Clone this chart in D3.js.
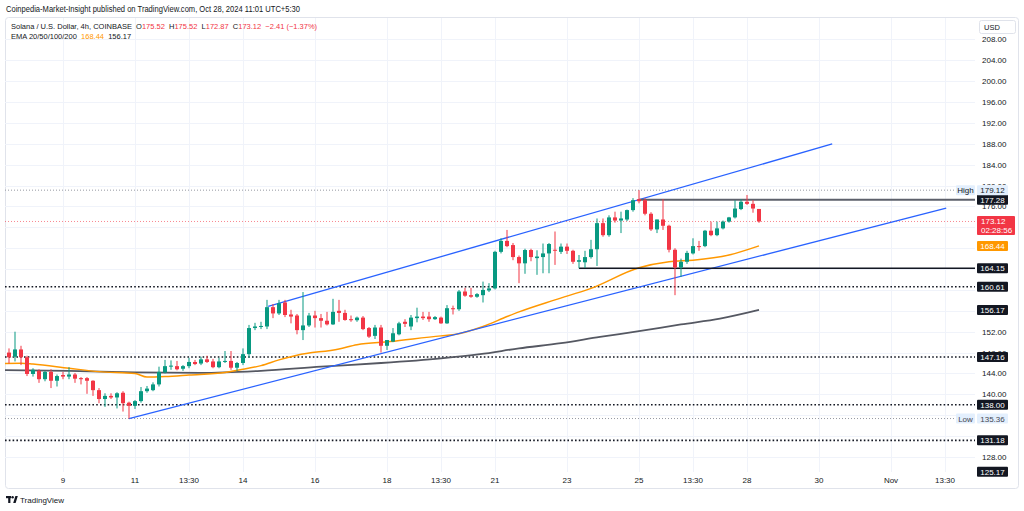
<!DOCTYPE html>
<html><head><meta charset="utf-8">
<script src="https://cdn.jsdelivr.net/npm/d3@7"></script>
<style>body{margin:0;background:#fff;} svg{display:block;font-family:"Liberation Sans",Arial,sans-serif;}</style>
</head><body><svg id="c" width="1024" height="511"></svg>
<script>
// ---- DATA (4h bars, index 0 = first visible candle) ----
const opens  = [148.0,147.2,148.6,147.1,143.9,144.5,142.9,144.3,142.6,143.7,143.4,143.8,143.1,143.1,142.6,140.8,139.1,139.7,139.4,140.3,
138.4,137.8,138.7,140.6,140.8,141.9,144.2,145.3,145.4,144.9,145.4,146.2,145.9,146.7,146.3,145.2,146.3,146.4,145.1,146.0,
147.7,152.7,153.0,153.0,156.7,155.5,157.6,155.3,155.1,152.3,153.2,155.1,154.6,154.1,153.4,156.0,155.6,154.4,154.2,154.7,
152.7,151.2,152.8,149.3,150.1,151.5,153.9,153.0,154.6,154.9,154.9,154.4,154.7,153.6,156.5,156.3,159.7,159.0,158.7,159.0,
159.9,160.3,167.3,169.4,168.6,166.3,165.1,167.65,166.1,166.3,167.0,167.7,167.3,168.3,167.5,165.4,165.3,166.3,167.8,172.8,
170.5,173.9,173.3,173.5,175.3,177.4,177.2,174.6,171.6,173.5,172.3,167.7,164.3,165.4,167.0,168.4,168.4,171.35,170.5,171.8,
173.1,173.9,175.5,176.9,176.5,175.52];
const highs  = [148.8,152.0,149.3,147.4,145.0,144.8,144.5,144.8,143.8,144.3,145.2,144.1,143.3,143.3,142.7,141.2,140.2,140.2,140.4,140.6,
138.6,138.9,141.4,141.6,142.3,145.3,146.6,146.5,146.4,145.6,147.0,146.6,147.2,147.4,146.8,147.0,148.3,148.3,146.2,148.8,
153.3,153.7,153.9,158.1,157.3,158.1,158.1,156.2,155.4,159.6,155.6,156.0,155.4,155.8,158.3,158.1,156.2,155.1,154.9,155.0,
152.9,153.3,153.3,150.4,152.7,153.9,154.4,155.2,156.6,155.8,155.8,155.0,154.9,157.1,157.0,160.0,160.4,160.4,159.4,161.6,
161.3,167.5,169.9,171.5,169.0,166.6,167.9,167.9,167.6,168.9,169.0,171.2,168.9,168.9,167.7,166.7,167.5,169.6,173.7,173.7,
174.3,175.0,175.0,175.4,177.6,179.12,177.6,174.9,173.5,177.4,172.5,168.0,166.0,167.5,169.9,169.4,171.5,173.1,173.1,173.3,
174.0,177.2,177.4,178.2,177.2,175.52];
const lows   = [145.9,146.3,145.6,143.5,143.4,142.2,142.5,141.2,141.5,142.9,142.9,142.2,141.9,140.1,139.7,138.3,137.6,139.1,137.3,136.7,
135.36,137.2,138.4,140.3,140.6,141.5,144.0,144.7,144.6,144.5,145.0,145.6,145.6,146.0,145.0,145.0,146.0,144.7,144.5,145.6,
147.0,152.3,152.5,152.5,154.6,155.2,154.8,153.6,151.5,150.4,152.9,152.8,152.8,153.2,153.3,153.9,154.1,153.9,153.9,152.3,
150.8,150.6,148.0,148.5,150.0,151.3,152.9,152.3,153.8,154.25,153.9,154.25,153.5,153.5,155.3,156.0,158.7,158.5,158.5,157.6,
159.6,160.1,167.0,168.2,165.7,161.3,163.1,165.5,162.9,163.2,163.2,164.8,166.9,166.9,165.0,164.15,164.2,166.0,164.6,170.2,
170.2,172.9,170.9,173.2,175.0,176.6,174.3,171.3,170.9,171.5,167.2,159.0,162.5,165.0,166.8,167.5,168.2,170.3,170.3,171.6,
172.9,173.7,175.3,176.3,174.8,172.87];
const closes = [147.1,148.6,147.1,143.9,144.7,142.9,144.3,142.6,143.5,143.4,143.8,143.0,142.9,142.6,140.8,139.1,139.7,139.4,140.2,138.3,
137.8,138.7,140.6,141.1,141.9,144.3,145.4,145.5,144.8,145.4,146.2,145.8,146.7,146.2,145.2,146.3,146.4,145.1,146.0,147.7,
152.7,153.0,153.1,156.7,155.5,157.45,155.2,154.9,152.3,153.2,155.1,154.6,154.1,153.4,155.8,155.6,154.25,154.2,154.7,152.5,
151.05,152.8,149.3,150.4,151.7,153.6,153.5,154.7,154.9,154.6,154.4,154.8,153.6,156.5,156.3,159.7,158.9,158.7,159.2,160.0,
160.3,167.3,169.4,168.4,166.3,165.1,167.65,166.3,166.4,167.0,168.8,167.6,168.3,167.5,165.4,165.7,166.3,167.8,172.8,170.5,
173.9,173.3,173.7,175.3,177.2,177.0,174.6,171.6,173.5,172.3,167.7,164.3,165.4,167.1,168.4,168.3,171.35,170.5,171.8,173.1,
173.9,175.6,176.9,176.5,175.6,173.12];

// EMA readings (bar index, value)
const emaFastIdx = [-2, 2, 4, 10, 15, 21, 23, 26, 30, 36, 39, 42, 45, 48, 55, 58, 63.5, 72, 74, 79, 83, 85, 91, 97, 105, 110, 114, 120, 125];
const emaFastVal = [145.9,145.95,145.8,145.0,144.35,144.0,143.3,143.4,143.7,144.2,144.8,145.5,146.6,147.5,148.7,149.5,150.1,151.2,151.4,153.0,154.9,155.8,158.1,160.3,164.25,165.4,165.7,166.7,168.44];
const emaSlowIdx = [-2, 10, 21, 32, 42, 52, 62, 72, 78.5, 85, 92, 98.5, 105, 112, 118.5, 125];
const emaSlowVal = [144.66,144.5,144.2,144.1,144.5,145.3,146.0,146.9,147.7,148.8,149.8,151.0,152.1,153.4,154.5,156.17];

// channel lines (bar index, price)
const upperChannel = [[43.2, 156.84], [137.2, 187.97]];
const lowerChannel = [[20, 135.36], [156.2, 175.7]];

// horizontal levels
const solidLevels = [{v:177.28, from:105, color:"#5d606b", w:2}, {v:164.15, from:95, color:"#131722", w:1.5}];
const dottedLevels = [160.61, 147.16, 138.00, 131.18];
const labelLevels = [177.28, 164.15, 160.61, 156.17, 147.16, 138.00, 131.18, 125.17];
const highValue = 179.12, lowValue = 135.36, lastPrice = 173.12, emaFastLast = 168.44;

const priceTicks = [128,132,136,140,144,148,152,156,160,164,168,172,176,180,184,188,192,196,200,204,208];
const timeTickIdx = [9,21,30,39,51,63,72,81,93,105,114,123,135,147,156];
const timeTickLabels = ["9","11","13:30","14","16","18","13:30","21","23","25","13:30","28","30","Nov","13:30"];

// ---- DRAW ----
const svg = d3.select("#c");
const paneL = 5, paneR = 975, paneT = 18, paneB = 472;
const x = d3.scaleLinear().domain([-1.5, 161]).range([0, 975]);
const y = d3.scaleLinear().domain([184, 152]).range([164.7, 331.7]);
const GREEN = "#089981", RED = "#f23645", TXT = "#131722";

const defs = svg.append("defs");
defs.append("clipPath").attr("id","pane").append("rect")
  .attr("x",paneL).attr("y",paneT).attr("width",paneR-paneL).attr("height",paneB-paneT);

// header
svg.append("text").attr("x",6).attr("y",11.5).attr("font-size",8.3).attr("fill",TXT)
  .attr("textLength",294).attr("lengthAdjust","spacingAndGlyphs")
  .text("Coinpedia-Market-Insight published on TradingView.com, Oct 28, 2024 11:01 UTC+5:30");

// frame
svg.append("rect").attr("x",5.5).attr("y",17.5).attr("width",1013).attr("height",471)
  .attr("fill","none").attr("stroke","#e0e3eb").attr("rx",3);

const g = svg.append("g").attr("clip-path","url(#pane)");
// grid
g.selectAll(".hg").data(priceTicks).join("line")
  .attr("x1",paneL).attr("x2",paneR).attr("y1",d=>Math.round(y(d))+0.5).attr("y2",d=>Math.round(y(d))+0.5)
  .attr("stroke","#f0f3fa");
g.selectAll(".vg").data(timeTickIdx).join("line")
  .attr("x1",d=>x(d)+0.5).attr("x2",d=>x(d)+0.5).attr("y1",paneT).attr("y2",paneB)
  .attr("stroke","#f0f3fa");

// dotted high/low + last price lines
[[highValue,"#9598a1"],[lowValue,"#9598a1"]].forEach(([v,c])=>{
  g.append("line").attr("x1",paneL).attr("x2",paneR).attr("y1",y(v)).attr("y2",y(v))
   .attr("stroke",c).attr("stroke-width",1).attr("stroke-dasharray","1,2");
});
g.append("line").attr("x1",paneL).attr("x2",paneR).attr("y1",y(lastPrice)).attr("y2",y(lastPrice))
  .attr("stroke",RED).attr("stroke-opacity",0.6).attr("stroke-width",1).attr("stroke-dasharray","1,2");

// dotted black levels
g.selectAll(".dl").data(dottedLevels).join("line")
  .attr("x1",paneL).attr("x2",paneR).attr("y1",d=>y(d)).attr("y2",d=>y(d))
  .attr("stroke",TXT).attr("stroke-width",1.6).attr("stroke-dasharray","1.6,2.2");

// EMAs
const lineGen = d3.line().x(d=>x(d[0])).y(d=>y(d[1])).curve(d3.curveMonotoneX);
g.append("path").datum(emaSlowIdx.map((d,i)=>[d,emaSlowVal[i]])).attr("d",lineGen)
  .attr("fill","none").attr("stroke","#555862").attr("stroke-width",1.8);
g.append("path").datum(emaFastIdx.map((d,i)=>[d,emaFastVal[i]])).attr("d",lineGen)
  .attr("fill","none").attr("stroke","#ff9800").attr("stroke-width",1.5);

// channel
[upperChannel, lowerChannel].forEach(c=>{
  g.append("line").attr("x1",x(c[0][0])).attr("y1",y(c[0][1])).attr("x2",x(c[1][0])).attr("y2",y(c[1][1]))
   .attr("stroke","#2962ff").attr("stroke-width",1.3);
});

// solid levels
solidLevels.forEach(l=>{
  g.append("line").attr("x1",x(l.from)).attr("x2",paneR).attr("y1",y(l.v)).attr("y2",y(l.v))
   .attr("stroke",l.color).attr("stroke-width",l.w);
});

// candles
const idx = opens.map((d,i)=>i);
const cg = g.append("g");
cg.selectAll(".wick").data(idx).join("rect")
  .attr("x",i=>x(i)-0.5).attr("width",1)
  .attr("y",i=>y(highs[i])).attr("height",i=>Math.max(1,y(lows[i])-y(highs[i])))
  .attr("fill",i=>closes[i]>=opens[i]?GREEN:RED);
cg.selectAll(".body").data(idx).join("rect")
  .attr("x",i=>x(i)-2).attr("width",4)
  .attr("y",i=>y(Math.max(opens[i],closes[i])))
  .attr("height",i=>Math.max(1,Math.abs(y(opens[i])-y(closes[i]))))
  .attr("fill",i=>closes[i]>=opens[i]?GREEN:RED);

// price axis ticks: skip labels that the value boxes fully cover
const boxValues = labelLevels.concat([highValue, lowValue, lastPrice, emaFastLast]);
const partial = [180, 176, 148];
const visibleTicks = priceTicks.filter(t => partial.includes(t) ||
  (!boxValues.some(b => Math.abs(y(b)-y(t)) < 5.5) && !(Math.abs(y(lastPrice)-y(t)) < 12)));
defs.append("clipPath").attr("id","axisClip").selectAll("rect")
  .data([[18,185.2],[194.8,207.5],[207.5,211.5],[237,241],[251,262],[273.5,280],[292,303],[315,351.9]]).join("rect")
  .attr("x",976).attr("width",48).attr("y",d=>d[0]).attr("height",d=>d[1]-d[0]);
svg.append("g").selectAll("text").data(visibleTicks).join("text")
  .attr("x",982).attr("y",d=>y(d)+3).attr("font-size",8).attr("fill",TXT).text(d=>d.toFixed(2))
  .attr("clip-path",d=>partial.includes(d)?"url(#axisClip)":null);

// label boxes
function box(v,bg,fg,txt,opts={}){
  const w=opts.w||31, h=opts.h||10, x0=opts.x0||977;
  const yc=y(v);
  svg.append("rect").attr("x",x0).attr("y",yc-h/2).attr("width",w).attr("height",h).attr("fill",bg).attr("rx",1);
  svg.append("text").attr("x",x0+w/2).attr("y",yc+3).attr("text-anchor","middle")
    .attr("font-size",8).attr("fill",fg).text(txt);
}
labelLevels.forEach(v=>box(v,"#131722","#ffffff",v.toFixed(2)));
box(highValue,"#e3effd",TXT,highValue.toFixed(2));
box(highValue,"#e3effd",TXT,"High",{x0:956,w:19});
box(lowValue,"#e3effd","#434651",lowValue.toFixed(2));
box(lowValue,"#e3effd","#434651","Low",{x0:956,w:19});
box(emaFastLast,"#ff9800","#ffffff",emaFastLast.toFixed(2));
// last price box with countdown
{
  const yc=y(lastPrice);
  svg.append("rect").attr("x",977).attr("y",yc-5.5).attr("width",38).attr("height",19).attr("fill",RED).attr("rx",1);
  svg.append("text").attr("x",981).attr("y",yc+3).attr("font-size",8).attr("fill","#fff").text(lastPrice.toFixed(2));
  svg.append("text").attr("x",981).attr("y",yc+12).attr("font-size",8).attr("fill","#fff").text("02:28:56");
}

// USD box
svg.append("rect").attr("x",979.5).attr("y",20.5).attr("width",36).attr("height",13).attr("fill","#fff")
  .attr("stroke","#e0e3eb").attr("rx",2);
svg.append("text").attr("x",984).attr("y",30).attr("font-size",7.5).attr("fill",TXT).text("USD");

// legend lines: one text element per line, coloured spans in natural flow
const legend1 = [["Solana / U.S. Dollar, 4h, COINBASE\u00a0\u00a0",TXT],["O",TXT],["175.52\u00a0\u00a0",RED],["H",TXT],["175.52\u00a0\u00a0",RED],
  ["L",TXT],["172.87\u00a0\u00a0",RED],["C",TXT],["173.12\u00a0\u00a0",RED],["\u22122.41 (\u22121.37%)",RED]];
const t1 = svg.append("text").attr("x",11).attr("y",28.5).attr("font-size",7.5);
legend1.forEach(([s,c])=>t1.append("tspan").attr("fill",c).text(s));
const legend2 = [["EMA 20/50/100/200\u00a0\u00a0",TXT],["168.44\u00a0\u00a0","#ff9800"],["156.17",TXT]];
const t2 = svg.append("text").attr("x",11).attr("y",38.5).attr("font-size",7.5);
legend2.forEach(([s,c])=>t2.append("tspan").attr("fill",c).text(s));

// time axis
svg.selectAll(".tt").data(timeTickIdx).join("text")
  .attr("x",d=>x(d)).attr("y",483).attr("text-anchor","middle").attr("font-size",8).attr("fill",TXT)
  .text((d,i)=>timeTickLabels[i]);

// TradingView logo
const lg = svg.append("g").attr("fill",TXT);
lg.append("rect").attr("x",6).attr("y",496).attr("width",5).attr("height",2.2);
lg.append("rect").attr("x",8.2).attr("y",496).attr("width",2.2).attr("height",7);
lg.append("circle").attr("cx",12.6).attr("cy",497.2).attr("r",1.2);
lg.append("path").attr("d","M13.2 503 L15.4 496 L17.8 496 L15.6 503 Z");
svg.append("text").attr("x",20).attr("y",502.5).attr("font-size",8).attr("fill",TXT).text("TradingView");
</script></body></html>
